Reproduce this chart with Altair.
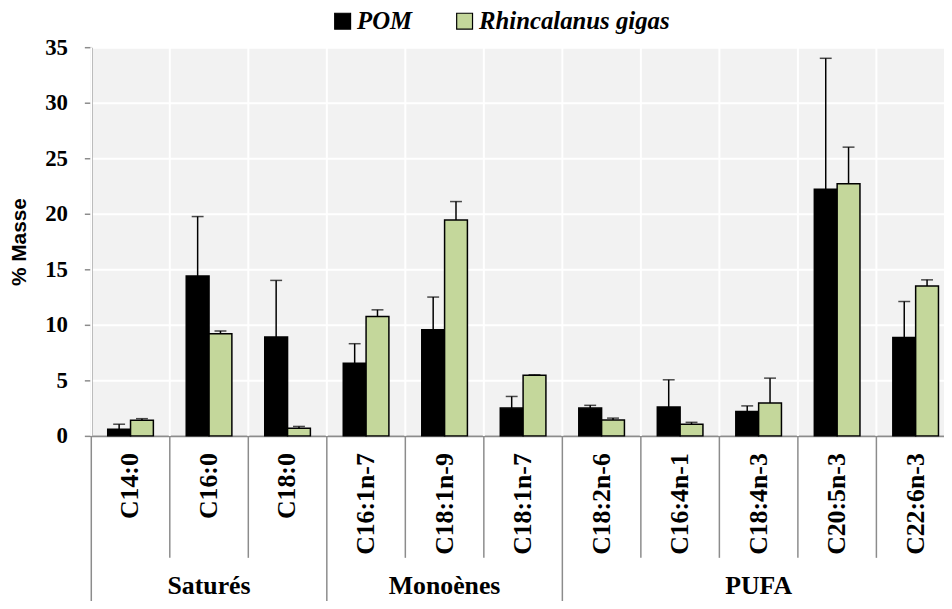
import altair as alt
import pandas as pd

categories = ["C14:0", "C16:0", "C18:0", "C16:1n-7", "C18:1n-9", "C18:1n-7",
              "C18:2n-6", "C16:4n-1", "C18:4n-3", "C20:5n-3", "C22:6n-3"]
series = ["POM", "Rhincalanus gigas"]
pom_mean = [0.6, 14.4, 8.9, 6.55, 9.55, 2.5, 2.5, 2.6, 2.2, 22.2, 8.85]
pom_sd = [0.45, 5.35, 5.1, 1.75, 2.95, 1.05, 0.25, 2.45, 0.5, 11.8, 3.25]
rhin_mean = [1.4, 9.2, 0.68, 10.75, 19.45, 5.45, 1.43, 1.04, 2.95, 22.7, 13.5]
rhin_sd = [0.15, 0.25, 0.17, 0.6, 1.65, 0.05, 0.17, 0.18, 2.25, 3.3, 0.55]
groups = ["Saturés", "Monoènes", "PUFA"]
group_first = ["C14:0", "C16:1n-7", "C18:2n-6"]
group_mid = ["C16:0", "C18:1n-9", "C18:4n-3"]
y_ticks = [0, 5, 10, 15, 20, 25, 30, 35]

rows = []
for i, c in enumerate(categories):
    rows.append({"cat": c, "serie": series[0], "val": pom_mean[i], "up": pom_mean[i] + pom_sd[i]})
    rows.append({"cat": c, "serie": series[1], "val": rhin_mean[i], "up": rhin_mean[i] + rhin_sd[i]})
df = pd.DataFrame(rows)
df_cat = pd.DataFrame({"cat": categories})
df_sub = pd.DataFrame({"cat": [c for c in categories if c not in group_first]})
df_grp = pd.DataFrame({"cat": group_first})
df_lbl = pd.DataFrame({"cat": group_mid, "group": groups})

SERIF = "'Liberation Serif', 'Times New Roman', Times, serif"
SANS = "'Liberation Sans', Arial, sans-serif"
GRAY = "#8c8c8c"
xscale = alt.Scale(domain=categories, range=[0, 871], paddingInner=0, paddingOuter=0)
xaxis = alt.Axis(title=None, ticks=False, grid=False, labelAngle=270, labelPadding=17,
                 labelFont=SERIF, labelFontWeight="bold", labelFontSize=26,
                 labelColor="black", labelLimit=0, domainColor=GRAY, domainWidth=2)
yscale = alt.Scale(domain=[0, 35], nice=False, zero=True)
yaxis = alt.Axis(values=y_ticks, tickSize=7, tickColor=GRAY, tickWidth=1.5,
                 domainColor=GRAY, domainWidth=2,
                 labelFont=SERIF, labelFontWeight="bold", labelFontSize=23,
                 labelColor="black", labelPadding=17, gridColor="white", gridWidth=2,
                 title="% Masse", titleFont=SANS, titleFontSize=21,
                 titleFontWeight="bold", titleColor="black", titlePadding=15)

X = alt.X("cat:N", scale=xscale, sort=categories, axis=xaxis)
XO = alt.XOffset("serie:N", scale=alt.Scale(domain=series, paddingInner=0, paddingOuter=0.72))

vgrid = alt.Chart(df_cat).mark_rule(color="white", strokeWidth=2).encode(
    x=alt.X("cat:N", scale=xscale, sort=categories, axis=xaxis, bandPosition=0),
    y=alt.value(0), y2=alt.value(392))

bars = alt.Chart(df).mark_bar(stroke="black", strokeWidth=1.5).encode(
    x=X, xOffset=XO,
    y=alt.Y("val:Q", scale=yscale, axis=yaxis),
    color=alt.Color("serie:N", scale=alt.Scale(domain=series, range=["#000000", "#c4d79b"]),
                    legend=alt.Legend(title=None, orient="none", legendX=241, legendY=-39,
                                      direction="horizontal", symbolType="square",
                                      symbolSize=256, symbolStrokeColor="black",
                                      symbolStrokeWidth=1.2,
                                      labelFont=SERIF, labelFontStyle="italic",
                                      labelFontWeight="bold", labelFontSize=25,
                                      labelColor="black", columnPadding=40, labelOffset=2,
                                      labelLimit=0)))

err = alt.Chart(df).mark_rule(color="black", strokeWidth=1.5).encode(
    x=X, xOffset=XO, y=alt.Y("val:Q", scale=yscale, axis=yaxis), y2="up:Q")
caps = alt.Chart(df).mark_tick(color="black", thickness=1.5, size=12, orient="horizontal").encode(
    x=X, xOffset=XO, y=alt.Y("up:Q", scale=yscale, axis=yaxis))

sep_sub = alt.Chart(df_sub).mark_rule(color=GRAY, strokeWidth=1.5).encode(
    x=alt.X("cat:N", scale=xscale, sort=categories, axis=xaxis, bandPosition=0),
    y=alt.value(392), y2=alt.value(515))
sep_grp = alt.Chart(df_grp).mark_rule(color=GRAY, strokeWidth=1.5).encode(
    x=alt.X("cat:N", scale=xscale, sort=categories, axis=xaxis, bandPosition=0),
    y=alt.value(392), y2=alt.value(570))
glabels = alt.Chart(df_lbl).mark_text(font=SERIF, fontWeight="bold", fontSize=26,
                                      baseline="middle", align="center", color="black").encode(
    x=alt.X("cat:N", scale=xscale, sort=categories, axis=xaxis),
    y=alt.value(543), text="group:N")

chart = alt.layer(vgrid, bars, err, caps, sep_sub, sep_grp, glabels).properties(
    width=860, height=392,
    autosize=alt.AutoSizeParams(type="none"),
    padding={"left": 84, "top": 37, "right": 0, "bottom": 164},
).configure_view(fill="#f2f2f2", strokeWidth=0)

chart.save("out.html", embed_options={"renderer": "svg", "actions": False})
